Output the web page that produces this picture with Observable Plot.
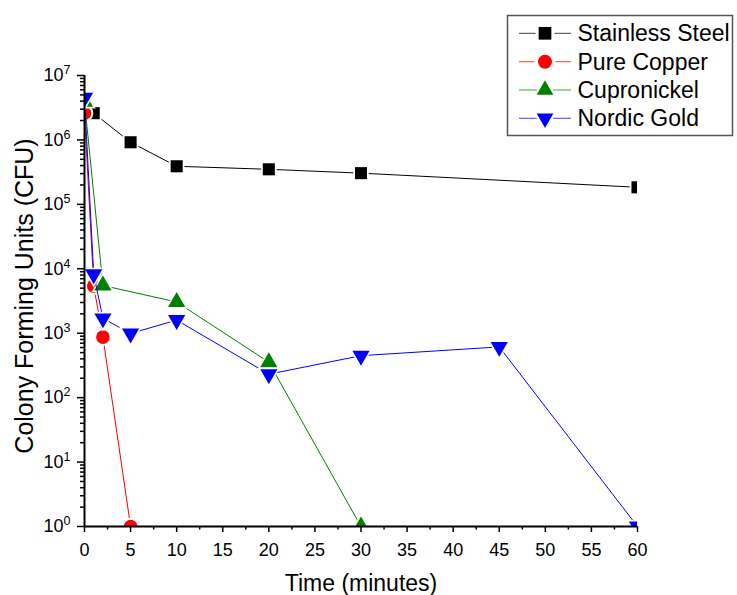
<!DOCTYPE html>
<html>
<head>
<meta charset="utf-8">
<script src="https://cdn.jsdelivr.net/npm/d3@7"></script>
<script src="https://cdn.jsdelivr.net/npm/@observablehq/plot@0.6"></script>
<style>
  body { margin: 0; background: #fff; }
  #wrap { position: relative; width: 737px; height: 595px; font-family: "Liberation Sans", Arial, sans-serif; }
  #wrap svg { display: block; }
</style>
</head>
<body>
<div id="wrap"></div>
<script>
// ---- data ----
const seriesNames = ["Stainless Steel", "Pure Copper", "Cupronickel", "Nordic Gold"];
const seriesColors = ["#000000", "#ff0000", "#008000", "#0000ff"];
const seriesSymbols = ["square", "circle", "triangle", "triangle"];
const seriesRotate = [0, 0, 0, 180];

const steelTime = [1, 5, 10, 20, 30, 60];
const steelCFU = [2.6e6, 9.2e5, 3.9e5, 3.5e5, 3.05e5, 1.84e5];
const copperTime = [0, 1, 2, 5];
const copperCFU = [2.6e6, 5.4e3, 870, 1];
const cuproTime = [0, 2, 10, 20, 30];
const cuproCFU = [3.9e6, 5.5e3, 3.05e3, 355, 1];
const nordicTime = [0, 1, 2, 5, 10, 20, 30, 45, 60];
const nordicCFU = [4.5e6, 8.2e3, 1.7e3, 990, 1.6e3, 231, 448, 613, 1];

const xMajorTicks = [0, 5, 10, 15, 20, 25, 30, 35, 40, 45, 50, 55, 60];
const xMinorTicks = [2.5, 7.5, 12.5, 17.5, 22.5, 27.5, 32.5, 37.5, 42.5, 47.5, 52.5, 57.5];
const yExponents = [0, 1, 2, 3, 4, 5, 6, 7];
const yMinorMultipliers = [2, 3, 4, 5, 6, 7, 8, 9];

const xTitle = "Time (minutes)";
const yTitle = "Colony Forming Units (CFU)";

// ---- tables built from the arrays ----
const seriesTimes = [steelTime, copperTime, cuproTime, nordicTime];
const seriesCFU = [steelCFU, copperCFU, cuproCFU, nordicCFU];
const seriesData = seriesNames.map((name, i) =>
  seriesTimes[i].map((t, j) => ({series: name, t, cfu: seriesCFU[i][j]})));
const yMajorTicks = yExponents.map(e => Math.pow(10, e));
const yMinorTicks = yExponents.slice(0, -1).flatMap(e => yMinorMultipliers.map(m => m * Math.pow(10, e)));
const markerR = [6.8, 6.8, 6.4, 6.4];

const marks = [];
seriesData.forEach((data, i) => {
  marks.push(Plot.line(data, {x: "t", y: "cfu", stroke: seriesColors[i], strokeWidth: 1, clip: true}));
  marks.push(Plot.dot(data, {x: "t", y: "cfu", symbol: seriesSymbols[i], r: markerR[i] + 2, fill: "white", stroke: "none", rotate: seriesRotate[i], clip: true}));
  marks.push(Plot.dot(data, {x: "t", y: "cfu", symbol: seriesSymbols[i], r: markerR[i], fill: seriesColors[i], stroke: "none", rotate: seriesRotate[i], clip: true}));
});

const chart = Plot.plot({
  width: 737,
  height: 595,
  marginLeft: 84,
  marginRight: 100,
  marginTop: 75,
  marginBottom: 69,
  style: {fontFamily: "'Liberation Sans', Arial, sans-serif", fontSize: "18px", color: "#000", background: "white"},
  x: {domain: [0, 60]},
  y: {type: "log", domain: [1, 1e7]},
  marks: [
    ...marks,
    Plot.axisX({ticks: xMinorTicks, tickSize: 3.5, tickFormat: () => "", label: null, strokeWidth: 1.5}),
    Plot.axisX({ticks: xMajorTicks, tickSize: 6, tickPadding: 11, tickFormat: d => String(d), label: null, strokeWidth: 1.5, fontSize: 18}),
    Plot.axisY({ticks: yMinorTicks, tickSize: 4, tickFormat: () => "", label: null, strokeWidth: 1.5}),
    Plot.axisY({ticks: yMajorTicks, tickSize: 7, tickPadding: 7, tickFormat: d => "10^" + Math.round(Math.log10(d)), label: null, strokeWidth: 1.5, fontSize: 18}),
    Plot.ruleX([0], {strokeWidth: 2}),
    Plot.ruleY([1], {strokeWidth: 2}),
    Plot.text([xTitle], {text: d => d, frameAnchor: "bottom", textAnchor: "middle", lineAnchor: "middle", dy: 57.5, fontSize: 23}),
    Plot.text([yTitle], {text: d => d, frameAnchor: "left", textAnchor: "middle", lineAnchor: "middle", dx: -60, dy: -5, rotate: -90, fontSize: 25})
  ]
});

// superscript exponents on y tick labels
d3.select(chart).selectAll("text").each(function () {
  const m = /^10\^(\d)$/.exec(this.textContent);
  if (m) {
    const el = d3.select(this);
    el.text("");
    el.append("tspan").text("10");
    el.append("tspan").attr("dy", -7).attr("font-size", 12.5).text(m[1]);
  }
});

const wrap = document.getElementById("wrap");
wrap.appendChild(chart);

// ---- legend ----
const legend = d3.select(wrap).append("svg")
  .attr("width", 737).attr("height", 595)
  .style("position", "absolute").style("left", "0px").style("top", "0px");
legend.append("rect")
  .attr("x", 507.5).attr("y", 15.5).attr("width", 225).attr("height", 120)
  .attr("fill", "white").attr("stroke", "#555").attr("stroke-width", 1.5);
const legendSym = {square: d3.symbolSquare, circle: d3.symbolCircle, triangle: d3.symbolTriangle};
const legendSize = [161, 154, 121, 121];
const rowY = [33.3, 61.7, 90, 118.3];
seriesNames.forEach((name, i) => {
  const g = legend.append("g").attr("transform", `translate(0,${rowY[i]})`);
  g.append("line").attr("x1", 519).attr("x2", 571).attr("y1", 0).attr("y2", 0)
    .attr("stroke", seriesColors[i]).attr("stroke-width", 1).attr("stroke-opacity", 0.75);
  const path = d3.symbol(legendSym[seriesSymbols[i]], legendSize[i])();
  g.append("path").attr("d", d3.symbol(legendSym[seriesSymbols[i]], legendSize[i] * 2.2)())
    .attr("transform", `translate(545,0) rotate(${seriesRotate[i]})`).attr("fill", "white");
  g.append("path").attr("d", path)
    .attr("transform", `translate(545,0) rotate(${seriesRotate[i]})`).attr("fill", seriesColors[i]);
  g.append("text").attr("x", 577.5).attr("y", 0).attr("dy", "0.35em")
    .attr("font-size", 23).attr("fill", "#000").text(name);
});
</script>
</body>
</html>
